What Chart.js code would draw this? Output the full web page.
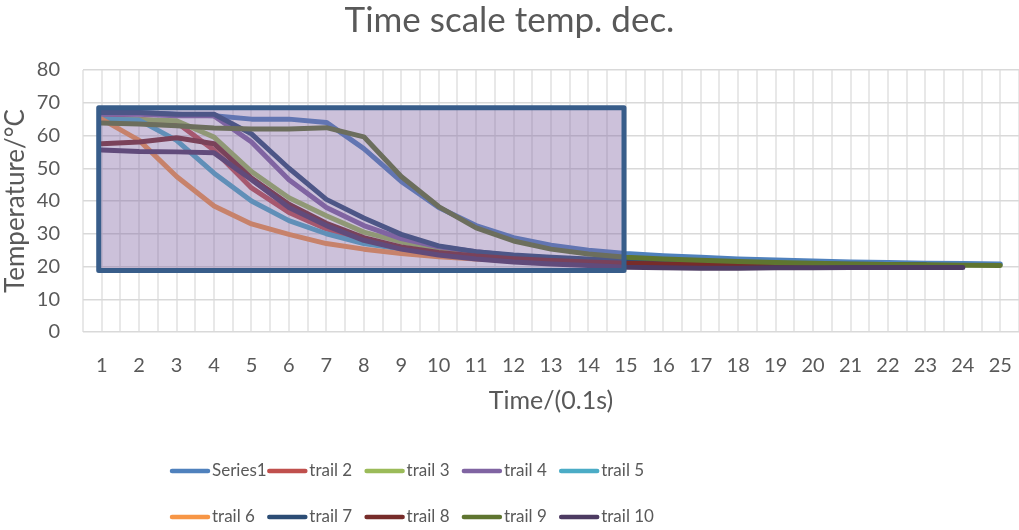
<!DOCTYPE html>
<html>
<head>
<meta charset="utf-8">
<title>Time scale temp. dec.</title>
<script src="https://cdn.jsdelivr.net/npm/chart.js@4/dist/chart.umd.min.js"></script>
<style>
  html, body { margin: 0; padding: 0; background: #ffffff; }
  #wrap { width: 1019px; height: 530px; position: relative; }
</style>
</head>
<body>
<div id="wrap"><canvas id="chart" width="1019" height="530"></canvas></div>
<script>
// Time steps (units of 0.1 s)
const categories = [1, 2, 3, 4, 5, 6, 7, 8, 9, 10, 11, 12, 13, 14, 15, 16, 17, 18, 19, 20, 21, 22, 23, 24, 25];

const seriesNames = ['Series1', 'trail 2', 'trail 3', 'trail 4', 'trail 5', 'trail 6', 'trail 7', 'trail 8', 'trail 9', 'trail 10'];
const seriesColors = ['#4F81BD', '#C0504D', '#9BBB59', '#8064A2', '#4BACC6', '#F79646', '#2C4D75', '#772C2A', '#5F7530', '#4D3B62'];

// Temperature readings in °C for each trial
const series1 = [67, 67, 66.5, 66, 65, 65, 64, 56, 46, 38, 32.5, 28.8, 26.5, 25, 24, 23.3, 22.8, 22.3, 22, 21.7, 21.4, 21.2, 21, 20.9, 20.8];
const trail2  = [65.5, 65, 64, 55.5, 44, 36.5, 31.5, 28, 25.5, 24, 23, 22.3, 21.8, 21.4, 21.1, 20.9, 20.7, 20.6, 20.5, 20.4, 20.3, 20.2, 20.2, 20.1, null];
const trail3  = [65, 64.8, 64.5, 59.5, 49, 41, 35.5, 30.5, 27.5, 25.5, 24, 23, 22.3, 21.8, 21.4, 21.1, 20.9, 20.7, 20.6, 20.5, 20.4, 20.3, 20.2, null, null];
const trail4  = [66.5, 66.5, 66, 66, 58, 46.5, 38, 32.5, 28.5, 26, 24.5, 23.3, 22.5, 22, 21.6, 21.3, 21, 20.8, 20.7, 20.6, 20.5, 20.4, 20.3, null, null];
const trail5  = [65, 64.7, 58.5, 48.5, 40, 34, 30, 27, 25.3, 24, 23, 22.2, 21.6, 21.2, 20.9, 20.7, 20.5, 20.4, 20.3, 20.2, 20.2, 20.1, null, null, null];
const trail6  = [65, 58.5, 47.5, 38.5, 33, 29.8, 27, 25.3, 24, 23, 22.3, 21.8, 21.4, 21.1, 20.9, 20.7, 20.6, 20.5, 20.4, 20.3, null, null, null, null, null];
const trail7  = [67, 67, 66.5, 66.5, 60.5, 50, 40.5, 34.8, 29.8, 26.3, 24.5, 23.5, 22.8, 22.3, 21.9, 21.6, 21.3, 21.1, 20.9, 20.8, 20.7, 20.6, 20.5, null, null];
const trail8  = [57.5, 58, 59.3, 57.5, 47, 39, 33.2, 28.8, 26, 24.3, 23.2, 22.4, 21.8, 21.4, 21, 20.8, 20.6, 20.5, 20.4, 20.3, 20.2, 20.2, 20.1, 20.1, null];
const trail9  = [63.8, 63.5, 63, 62.3, 62, 62, 62.4, 59.6, 47.5, 38.3, 31.8, 27.8, 25.3, 23.8, 22.8, 22.3, 21.9, 21.5, 21.2, 21, 20.8, 20.6, 20.5, 20.4, 20.3];
const trail10 = [55.6, 55.1, 55, 54.7, 46.5, 38, 32.5, 28, 25.3, 23.5, 22.3, 21.4, 20.8, 20.3, 19.8, 19.6, 19.5, 19.5, 19.6, 19.6, 19.7, 19.7, 19.7, 19.7, null];

const allSeries = [series1, trail2, trail3, trail4, trail5, trail6, trail7, trail8, trail9, trail10];

// Temperature axis
const yMin = 0, yMax = 80, yStep = 10;

// Highlighted region (time range and temperature band)
const highlightTime = [0.92, 14.95];
const highlightTemp = [18.8, 68.5];

const FONT = 'Lato, "Noto Sans", sans-serif';
const TEXT = '#595959';

const datasets = allSeries.map((values, i) => ({
  label: seriesNames[i],
  data: categories.map((c, k) => ({ x: c, y: values[k] })),
  borderColor: seriesColors[i],
  backgroundColor: seriesColors[i],
  borderWidth: 5,
  pointRadius: 0,
  pointHoverRadius: 0,
  tension: 0,
  fill: false,
  spanGaps: false,
  borderCapStyle: 'round',
  borderJoinStyle: 'round',
  order: allSeries.length - i   // later trials are drawn on top
}));

// Translucent rectangle marking the cooling region
const highlightPlugin = {
  id: 'highlightBox',
  afterDatasetsDraw(chart) {
    const { ctx, scales: { x, y } } = chart;
    const x0 = x.getPixelForValue(highlightTime[0]);
    const x1 = x.getPixelForValue(highlightTime[1]);
    const y0 = y.getPixelForValue(highlightTemp[1]);
    const y1 = y.getPixelForValue(highlightTemp[0]);
    ctx.save();
    ctx.fillStyle = 'rgba(128, 100, 162, 0.40)';
    ctx.fillRect(x0, y0, x1 - x0, y1 - y0);
    ctx.lineWidth = 5;
    ctx.lineJoin = 'round';
    ctx.strokeStyle = '#385D8A';
    ctx.strokeRect(x0, y0, x1 - x0, y1 - y0);
    ctx.restore();
  }
};

// Two-row legend laid out in fixed columns
const legendPlugin = {
  id: 'gridLegend',
  afterDraw(chart) {
    const { ctx } = chart;
    const cols = 5, colW = 97.3, startX = 170, rowY = [471, 517], lineLen = 40;
    ctx.save();
    ctx.font = '17px ' + FONT;
    ctx.textBaseline = 'middle';
    ctx.textAlign = 'left';
    chart.data.datasets.forEach((ds, i) => {
      const cx = startX + (i % cols) * colW;
      const cy = rowY[Math.floor(i / cols)];
      ctx.strokeStyle = ds.borderColor;
      ctx.lineWidth = 4.5;
      ctx.lineCap = 'round';
      ctx.beginPath();
      ctx.moveTo(cx + 2, cy);
      ctx.lineTo(cx + lineLen - 2, cy);
      ctx.stroke();
      ctx.fillStyle = TEXT;
      ctx.fillText(ds.label, cx + lineLen + 2, cy);
    });
    ctx.restore();
  }
};

new Chart(document.getElementById('chart'), {
  type: 'line',
  data: { datasets },
  plugins: [highlightPlugin, legendPlugin],
  options: {
    responsive: false,
    animation: false,
    events: [],
    layout: { padding: { top: 0, left: 0, right: 0, bottom: 114 } },
    plugins: {
      legend: { display: false },
      tooltip: { enabled: false },
      title: {
        display: true,
        text: 'Time scale temp. dec.',
        color: TEXT,
        font: { family: FONT, size: 35, weight: 'normal', lineHeight: 1.2 },
        padding: { top: 0, bottom: 28 }
      }
    },
    scales: {
      x: {
        type: 'linear',
        min: categories[0] - 0.5,
        max: categories[categories.length - 1] + 0.5,
        afterFit(scale) { scale.height = 84; },
        ticks: {
          stepSize: 0.5,
          autoSkip: false,
          maxRotation: 0,
          padding: 0,
          color: TEXT,
          font: { family: FONT, size: 20 },
          callback: (v) => (Number.isInteger(v) ? String(v) : '')
        },
        grid: { color: '#E8E8E8', lineWidth: 2, drawTicks: true, tickLength: 22, tickColor: 'rgba(0,0,0,0)' },
        border: { display: false },
        title: {
          display: true,
          text: 'Time/(0.1s)',
          color: TEXT,
          font: { family: FONT, size: 25 },
          padding: { top: 0, bottom: 0 }
        }
      },
      y: {
        min: yMin,
        max: yMax,
        afterFit(scale) { scale.width = 83; },
        ticks: {
          stepSize: yStep,
          padding: 0,
          color: TEXT,
          font: { family: FONT, size: 20 }
        },
        grid: { color: '#D9D9D9', lineWidth: 1.5, drawTicks: true, tickLength: 23, tickColor: 'rgba(0,0,0,0)' },
        border: { display: false },
        title: {
          display: true,
          text: 'Temperature/°C',
          color: TEXT,
          font: { family: FONT, size: 26 },
          padding: { top: 0, bottom: 0 }
        }
      }
    }
  }
});
</script>
</body>
</html>
